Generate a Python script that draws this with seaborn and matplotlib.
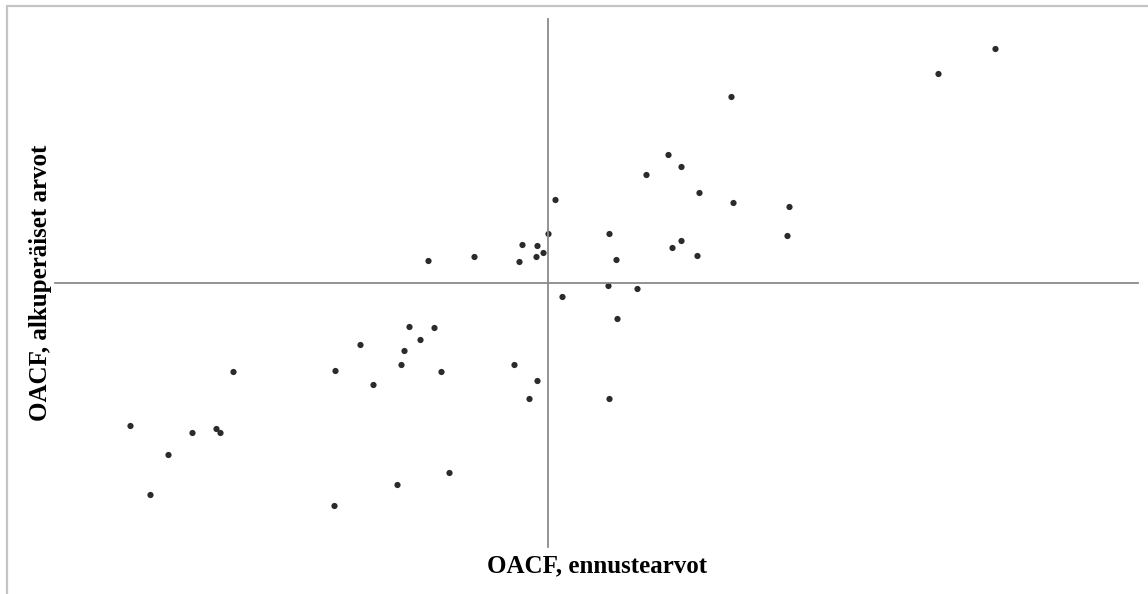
import matplotlib
matplotlib.use("Agg")
import matplotlib.pyplot as plt
import seaborn as sns
import pandas as pd
from matplotlib.lines import Line2D

# Forecast values (x) and original values (y)
forecast = [-4.17, -3.97, -3.79, -3.55, -3.31, -3.27, -3.14, -2.13, -2.12, -1.87,
            -1.74, -1.50, -1.46, -1.43, -1.38, -1.27, -1.13, -1.06, -0.98, -1.19,
            -0.73, -0.33, -0.28, -0.25, -0.18, -0.11, -0.10, -0.10, -0.04, 0.01,
            0.08, 0.15, 0.61, 0.62, 0.62, 0.69, 0.70, 0.90, 0.99, 1.21,
            1.25, 1.34, 1.34, 1.50, 1.52, 1.84, 1.86, 2.40, 2.42, 3.91, 4.48]
original = [-1.43, -2.12, -1.72, -1.50, -1.46, -1.50, -0.89, -2.23, -0.88, -0.62,
            -1.02, -2.02, -0.82, -0.68, -0.44, -0.57, -0.45, -0.89, -1.90, 0.22,
            0.26, -0.82, 0.21, 0.38, -1.16, 0.26, 0.37, -0.98, 0.30, 0.49,
            0.83, -0.14, -0.03, 0.49, -1.16, 0.23, -0.36, -0.06, 1.08, 1.28,
            0.35, 1.16, 0.42, 0.27, 0.90, 1.86, 0.80, 0.47, 0.76, 2.09, 2.34]

x_label = "OACF, ennustearvot"
y_label = "OACF, alkuperäiset arvot"

df = pd.DataFrame({"x": forecast, "y": original})

sns.set_style("white")
plt.rcParams["font.family"] = ["Liberation Serif", "DejaVu Serif"]

W, H = 1148, 594
fig = plt.figure(figsize=(W / 100, H / 100), dpi=100)
ax = fig.add_axes([55 / W, (H - 547) / H, (1138 - 55) / W, (547 - 19) / H])

sns.scatterplot(data=df, x="x", y="y", ax=ax, s=20, color="#2b2b2b",
                edgecolor="none", linewidth=0)

ax.set_xlim(-4.925, 5.905)
ax.set_ylim(-2.64, 2.64)
ax.set_xticks([])
ax.set_yticks([])
ax.set_xlabel("")
ax.set_ylabel("")
for s in ["top", "right"]:
    ax.spines[s].set_visible(False)
ax.spines["left"].set_position(("data", 0))
ax.spines["bottom"].set_position(("data", 0))
for s in ["left", "bottom"]:
    ax.spines[s].set_color("#8a8a8a")
    ax.spines[s].set_linewidth(1.3)
ax.patch.set_alpha(0)

fig.text(597 / W, 1 - 566 / H, x_label, ha="center", va="center",
         fontsize=18, fontweight="bold", color="black")
fig.text(41 / W, 1 - 283 / H, y_label, ha="center", va="center",
         rotation=90, fontsize=18, fontweight="bold", color="black")

# outer frame (top and left)
fig.add_artist(Line2D([6.5 / W, 1.0], [1 - 5.5 / H, 1 - 5.5 / H],
                      transform=fig.transFigure, color="#c4c4c4", lw=1.6))
fig.add_artist(Line2D([6.5 / W, 6.5 / W], [0, 1 - 5.5 / H],
                      transform=fig.transFigure, color="#c4c4c4", lw=1.6))

fig.savefig("out.png", dpi=100, facecolor="white")
